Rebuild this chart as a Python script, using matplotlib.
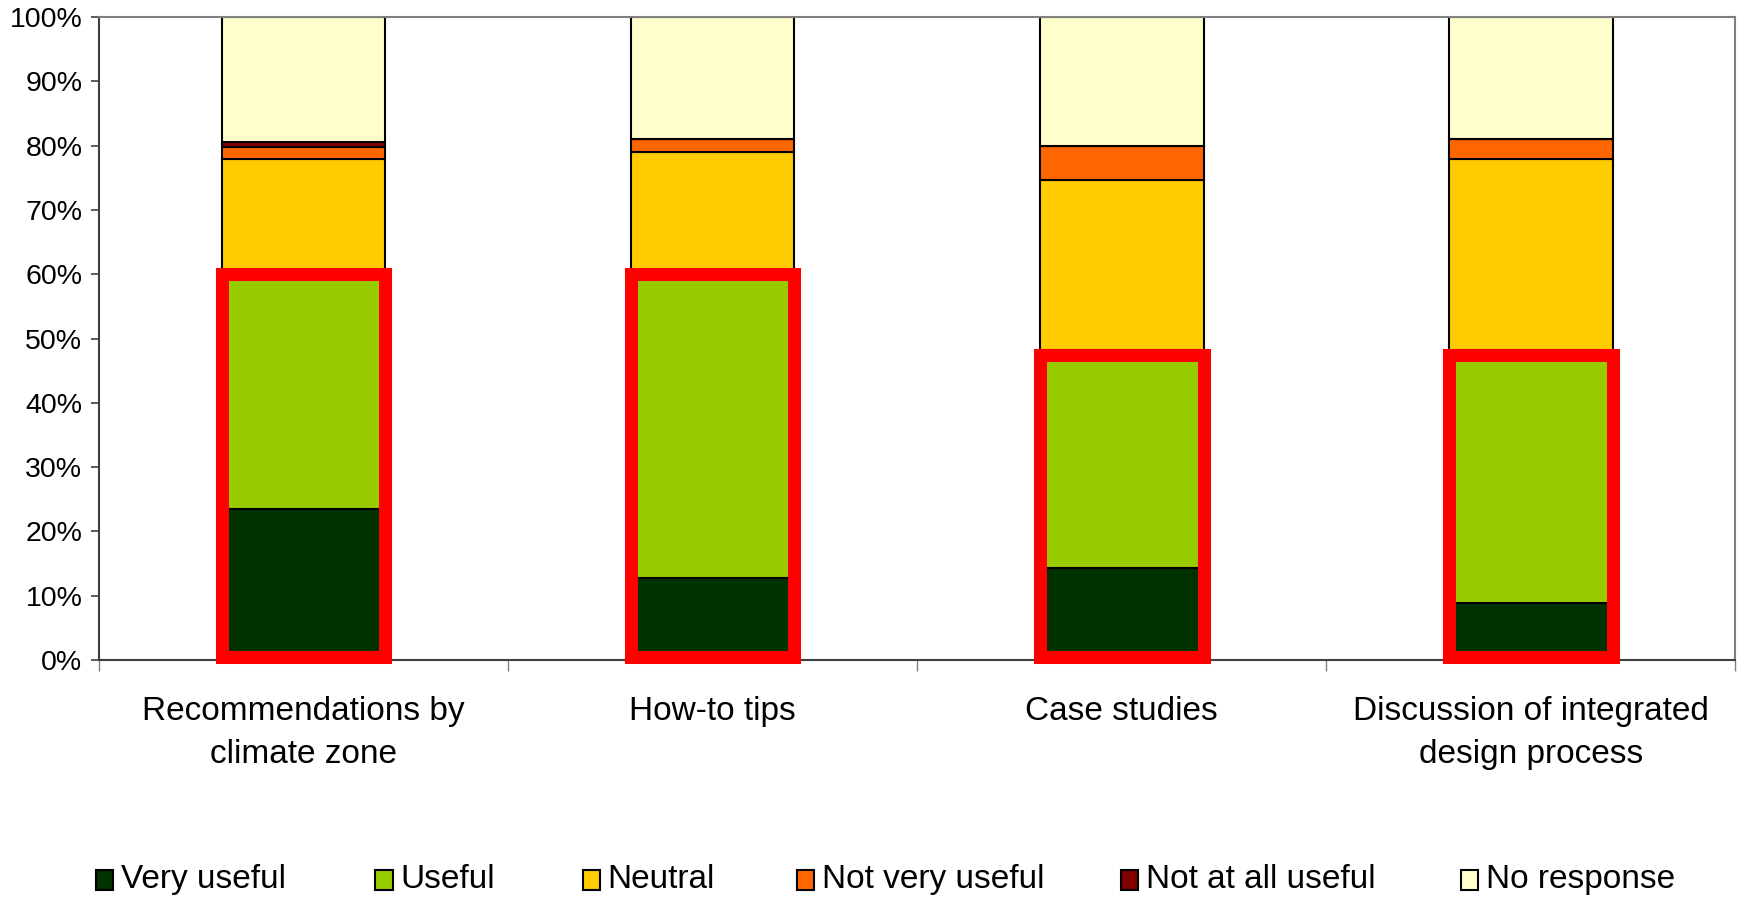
#!/usr/bin/env python3
"""Stacked usefulness ratings per guide section, with the useful share boxed."""
import matplotlib
matplotlib.use("Agg")
import matplotlib.pyplot as plt
from matplotlib.patches import Rectangle
from matplotlib.ticker import FuncFormatter
import numpy as np

plt.rcParams["font.family"] = ["Liberation Sans", "DejaVu Sans"]

CATEGORIES = [
    "Recommendations by\nclimate zone",
    "How-to tips",
    "Case studies",
    "Discussion of integrated\ndesign process",
]
SERIES = ["Very useful", "Useful", "Neutral", "Not very useful", "Not at all useful", "No response"]
VERY_USEFUL = [23.5, 12.7, 14.3, 8.8]
USEFUL = [36.5, 47.3, 33.2, 38.7]
NEUTRAL = [17.9, 19.0, 27.1, 30.4]
NOT_VERY_USEFUL = [1.9, 2.0, 5.3, 3.1]
NOT_AT_ALL_USEFUL = [0.8, 0.0, 0.0, 0.0]
NO_RESPONSE = [19.4, 19.0, 20.1, 19.0]

COLORS = ["#003300", "#99CC00", "#FFCC00", "#FF6600", "#800000", "#FFFFCC"]
BAR_WIDTH = 0.4
LEGEND_X = [0.0603, 0.2207, 0.3397, 0.4630, 0.6494, 0.8443]  # figure fraction, centre of each legend square


def main() -> None:
    values = np.array([VERY_USEFUL, USEFUL, NEUTRAL, NOT_VERY_USEFUL, NOT_AT_ALL_USEFUL, NO_RESPONSE])
    x = np.arange(len(CATEGORIES))

    fig = plt.figure(figsize=(17.4, 8.97), dpi=100)
    ax = fig.add_axes([0.0569, 0.2642, 0.9404, 0.7168])

    bottom = np.zeros(len(CATEGORIES))
    for name, vals, color in zip(SERIES, values, COLORS):
        ax.bar(x, vals, BAR_WIDTH, bottom=bottom, color=color, edgecolor="black",
               linewidth=1.5, label=name, zorder=2)
        bottom += vals

    # red boxes around the "very useful + useful" share
    positive = values[0] + values[1]
    for xi, top in zip(x, positive):
        ax.add_patch(Rectangle((xi - BAR_WIDTH / 2, 0.5), BAR_WIDTH, top - 0.5, fill=False,
                               edgecolor="#FF0000", linewidth=9.4, zorder=4, clip_on=False))

    ax.set_xlim(-0.5, len(CATEGORIES) - 0.5)
    ax.set_ylim(0, 100)
    ax.set_yticks(np.arange(0, 101, 10))
    ax.yaxis.set_major_formatter(FuncFormatter(lambda v, _: f"{v:.0f}%"))
    ax.tick_params(axis="y", labelsize=20.5, length=6, width=1.2, color="#404040", pad=6)

    ax.set_xticks(np.arange(-0.5, len(CATEGORIES), 1.0))
    ax.set_xticklabels([])
    ax.tick_params(axis="x", which="major", length=8, width=1.0, color="#808080")
    ax.set_xticks(x, CATEGORIES, minor=True)
    ax.tick_params(axis="x", which="minor", length=0, labelsize=24, pad=26)
    for lbl in ax.get_xticklabels(minor=True):
        lbl.set_linespacing(1.5)

    for side in ("top", "right"):
        ax.spines[side].set_color("#808080")
        ax.spines[side].set_linewidth(1.5)
    for side in ("left", "bottom"):
        ax.spines[side].set_color("#404040")
        ax.spines[side].set_linewidth(1.5)

    # legend along the bottom edge
    sq_w, sq_h = 0.0098, 0.0223
    y_mid = 0.019
    for lx, name, color in zip(LEGEND_X, SERIES, COLORS):
        fig.add_artist(Rectangle((lx - sq_w / 2, y_mid - sq_h / 2), sq_w, sq_h,
                                 transform=fig.transFigure, facecolor=color,
                                 edgecolor="black", linewidth=1.5))
        fig.text(lx + 0.0095, y_mid, name, fontsize=24, va="center", ha="left")

    fig.savefig("out.png", dpi=100)
    plt.close(fig)


if __name__ == "__main__":
    main()
